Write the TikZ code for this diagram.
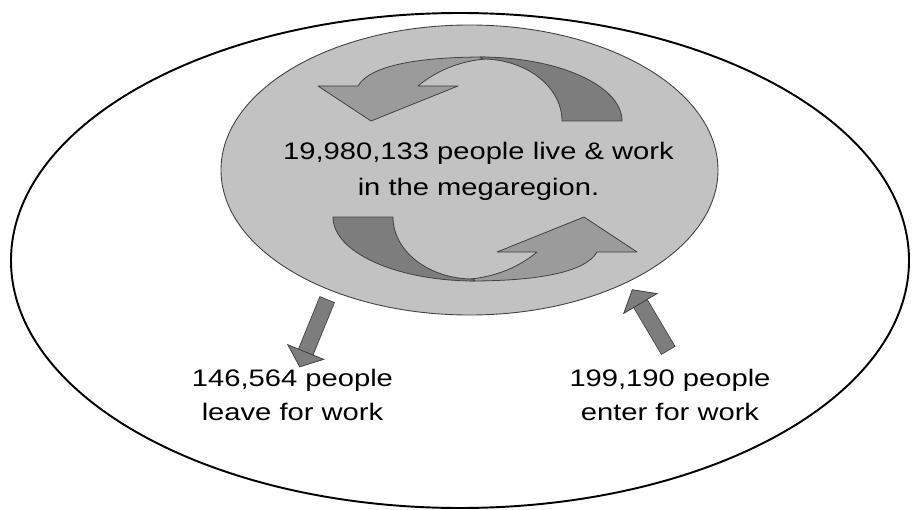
\documentclass[tikz,border=0pt]{standalone}
\usepackage{fontspec}
\setmainfont{Liberation Sans}[FakeStretch=1.22]
\usetikzlibrary{arrows.meta}

\definecolor{bubblefill}{RGB}{194,194,194}
\definecolor{lightcurl}{RGB}{155,155,155}
\definecolor{darkcurl}{RGB}{125,125,125}
\definecolor{edgegrey}{RGB}{64,64,64}

\tikzset{
  flowtext/.style={font=\fontsize{13.6}{19.3}\selectfont, align=center, inner sep=0pt},
  curl/.style={draw=edgegrey, line width=0.45pt, line join=round},
  flowarrow/.style={draw=darkcurl, line width=8.5pt,
    preaction={draw=edgegrey, line width=9.4pt, -, shorten >=9pt, shorten <=-0.45pt},
    -{Triangle[width=23.2pt, length=9.6pt, line width=0.45pt, fill=darkcurl, color=edgegrey]}}
}

\begin{document}
\begin{tikzpicture}[x=0.02cm, y=-0.02cm]
      \useasboundingbox (0,0) rectangle (913,510);
      % region and core
      \draw[line width=1.1pt] (460,260.5) ellipse [x radius=449, y radius=247.5];
      \draw[fill=bubblefill, draw=edgegrey, line width=0.5pt] (469.5,170) ellipse [x radius=248.5, y radius=145];
      % the two curled arrows
      \foreach \turn in {0,180} {
        \begin{scope}[rotate around={\turn:(477.5,169)}]
          \path[curl, fill=lightcurl] (358,86) .. controls (370,65) and (420,57) .. (485,57)
            -- (485,59) .. controls (452,62) and (430,76) .. (418,86)
            -- (458,86) -- (371,121) -- (318,86) -- cycle;
          \path[curl, fill=darkcurl] (622,121) arc[start angle=0, end angle=-90, x radius=142, y radius=64]
            -- (482,59) arc[start angle=-90, end angle=0, x radius=80, y radius=62] -- cycle;
        \end{scope}
      }
      \node[flowtext, font=\fontsize{13.6}{20.4}\selectfont] (inside) at (478.5,171.5)
        {19,980,133 people live \& work\\in the megaregion.};
      \node[flowtext] (leaving) at (292.5,395) {146,564 people\\leave for work};
      \node[flowtext] (entering) at (670,395) {199,190 people\\enter for work};
      \coordinate (leave start) at (327,300);
      \coordinate (leave tip) at (299.5,367.3);
      \coordinate (enter start) at (668,350);
      \coordinate (enter tip) at (632,289.3);
      \draw[flowarrow] (leave start) to (leave tip);
      \draw[flowarrow] (enter start) to (enter tip);
    \end{tikzpicture}
\end{document}
